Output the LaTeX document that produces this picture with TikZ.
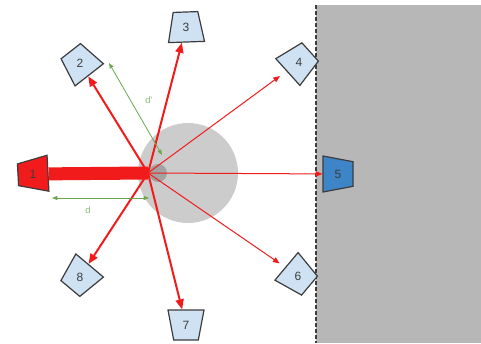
\documentclass[tikz,border=0pt]{standalone}
\usepackage{fontspec}
\setmainfont{Liberation Sans}
\usetikzlibrary{shapes.geometric,arrows.meta}

\definecolor{wallgray}{HTML}{B7B7B7}
\definecolor{zonegray}{HTML}{CCCCCC}
\definecolor{coregray}{HTML}{A2A2A2}
\definecolor{sensorblue}{HTML}{CFE2F3}
\definecolor{activeblue}{HTML}{3D85C6}
\definecolor{edgegray}{HTML}{3C3C3C}
\definecolor{dimgreen}{HTML}{6AA84F}
\definecolor{rayred}{HTML}{F21B1B}

\begin{document}
\begin{tikzpicture}[x=0.75pt, y=-0.75pt,
	sensor/.style={trapezium, trapezium angle=77, trapezium stretches=true,
		minimum width=27pt, minimum height=22.5pt, inner sep=2pt,
		draw=edgegray, line width=0.9pt, fill=sensorblue},
	num/.style={font=\small, text=edgegray, inner sep=0pt},
	ray/.style={draw=rayred, line width=1.5pt, -{Triangle[length=7.5pt,width=6pt]}},
	thinray/.style={draw=rayred, line width=0.75pt, -{Triangle[length=5pt,width=4pt]}},
	dim/.style={draw=dimgreen, line width=0.6pt,
		{Triangle[length=4pt,width=3pt]}-{Triangle[length=4pt,width=3pt]}},
	dimlabel/.style={font=\scriptsize, text=dimgreen!80, inner sep=0pt}]
	\useasboundingbox (0,0) rectangle (481,343);
	% wall
	\fill[wallgray] (316,5) rectangle (481,343);
	\draw[edgegray, line width=0.9pt, dash pattern=on 3pt off 1.5pt]
		(316,5) -- (316,343);
	% zone round the hub
	\fill[zonegray] (188,173) circle (37.5pt);
	\fill[coregray] (158,173) circle (6.75pt);
	\coordinate (hub) at (148,173);

	\node[sensor, fill=rayred, trapezium angle=72, rotate=93] (n1) at (33,174) {};
	\node[num] (l1) at (n1) {1};
	\node[sensor, rotate=38] (n2) at (80,63) {};
	\node[num] (l2) at (n2) {2};
	\node[sensor, rotate=2] (n3) at (186,27) {};
	\node[num] (l3) at (n3) {3};
	\node[sensor, rotate=-48] (n4) at (299,62) {};
	\node[num] (l4) at (n4) {4};
	\node[sensor, fill=activeblue, rotate=-90] (n5) at (338,174) {};
	\node[num] (l5) at (n5) {5};
	\node[sensor, rotate=-130] (n6) at (298,276) {};
	\node[num] (l6) at (n6) {6};
	\node[sensor, rotate=180] (n7) at (186,325) {};
	\node[num] (l7) at (n7) {7};
	\node[sensor, rotate=140] (n8) at (80,277) {};
	\node[num] (l8) at (n8) {8};

	% rays
	\draw[rayred, line width=9.75pt] (n1) -- (hub);
	\draw[ray] (hub) -- (n2);
	\draw[ray] (hub) -- (n3);
	\draw[thinray, shorten >=6pt] (hub) -- (n4);
	\draw[thinray] (hub) -- (n5);
	\draw[thinray, shorten >=5pt] (hub) -- (n6);
	\draw[ray] (hub) -- (n7);
	\draw[ray] (hub) -- (n8);

	% distances
	\coordinate (dL) at (52,198);
	\coordinate (dR) at (149,198);
	\draw[dim] (dL) -- node[dimlabel, pos=0.37, below=6pt] (dlab) {d} (dR);
	\coordinate (pA) at (109,63);
	\coordinate (pB) at (162,155);
	\draw[dim] (pA) -- node[dimlabel, pos=0.4, right=11pt] (plab) {d'} (pB);
\end{tikzpicture}
\end{document}
